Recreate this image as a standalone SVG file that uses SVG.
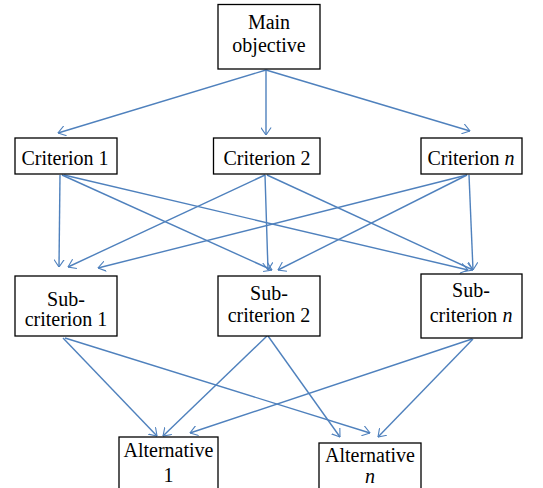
<svg xmlns="http://www.w3.org/2000/svg" width="543" height="488" viewBox="0 0 543 488">
<defs>
<marker id="ah" markerUnits="userSpaceOnUse" viewBox="0 0 10 14" refX="9.5" refY="7" markerWidth="8" markerHeight="11" orient="auto">
<path d="M0,0.5 L9.5,7 L0,13.5" fill="none" stroke="#4F81BD" stroke-width="1.4"/>
</marker>
<style>
.box{fill:#fff;stroke:#000;stroke-width:1.3}
.t{font-family:'Liberation Serif','Times New Roman','DejaVu Serif',serif;font-size:20px;fill:#000;text-anchor:middle}
.c line{stroke:#4F81BD;stroke-width:1.4;marker-end:url(#ah)}
</style>
</defs>
<rect width="543" height="488" fill="#fff"/>
<g class="c" id="connectors">
<line x1="266" y1="70" x2="58" y2="133"/>
<line x1="266" y1="70" x2="266" y2="135"/>
<line x1="266" y1="70" x2="470" y2="131"/>
<line x1="60" y1="175" x2="59" y2="267"/>
<line x1="62" y1="175" x2="272" y2="270"/>
<line x1="64" y1="175" x2="468" y2="270"/>
<line x1="265" y1="175" x2="68" y2="267"/>
<line x1="265" y1="175" x2="268" y2="270"/>
<line x1="267" y1="175" x2="473" y2="270"/>
<line x1="467" y1="175" x2="98" y2="268"/>
<line x1="467" y1="175" x2="278" y2="270"/>
<line x1="469" y1="175" x2="473" y2="270"/>
<line x1="63" y1="338" x2="157" y2="436"/>
<line x1="65" y1="338" x2="370" y2="433"/>
<line x1="267" y1="336" x2="163" y2="436"/>
<line x1="268" y1="336" x2="340" y2="437"/>
<line x1="472" y1="339" x2="190" y2="433"/>
<line x1="473" y1="339" x2="378" y2="437"/>
</g>
<g id="main"><rect class="box" x="218" y="4.5" width="102" height="64.5"/><text class="t" x="269" y="29">Main</text><text class="t" x="269" y="52">objective</text></g>
<g id="crit1"><rect class="box" x="15" y="138" width="102" height="36"/><text class="t" x="65" y="165">Criterion 1</text></g>
<g id="crit2"><rect class="box" x="213.5" y="138" width="106.5" height="36"/><text class="t" x="267" y="165">Criterion 2</text></g>
<g id="critn"><rect class="box" x="421" y="138" width="101" height="36"/><text class="t" x="471" y="165">Criterion <tspan font-style="italic">n</tspan></text></g>
<g id="sub1"><rect class="box" x="15" y="276" width="102" height="60"/><text class="t" x="66" y="306">Sub-</text><text class="t" x="66" y="326">criterion 1</text></g>
<g id="sub2"><rect class="box" x="218" y="276" width="102" height="60"/><text class="t" x="269" y="300">Sub-</text><text class="t" x="269" y="322">criterion 2</text></g>
<g id="subn"><rect class="box" x="421" y="274" width="101" height="64"/><text class="t" x="471" y="297">Sub-</text><text class="t" x="471" y="322">criterion <tspan font-style="italic">n</tspan></text></g>
<g id="alt1"><rect class="box" x="119" y="437" width="99" height="55"/><text class="t" x="168.5" y="457">Alternative</text><text class="t" x="168.5" y="482">1</text></g>
<g id="altn"><rect class="box" x="319" y="443" width="102" height="50"/><text class="t" x="370" y="462">Alternative</text><text class="t" x="370" y="483" font-style="italic">n</text></g>
</svg>
